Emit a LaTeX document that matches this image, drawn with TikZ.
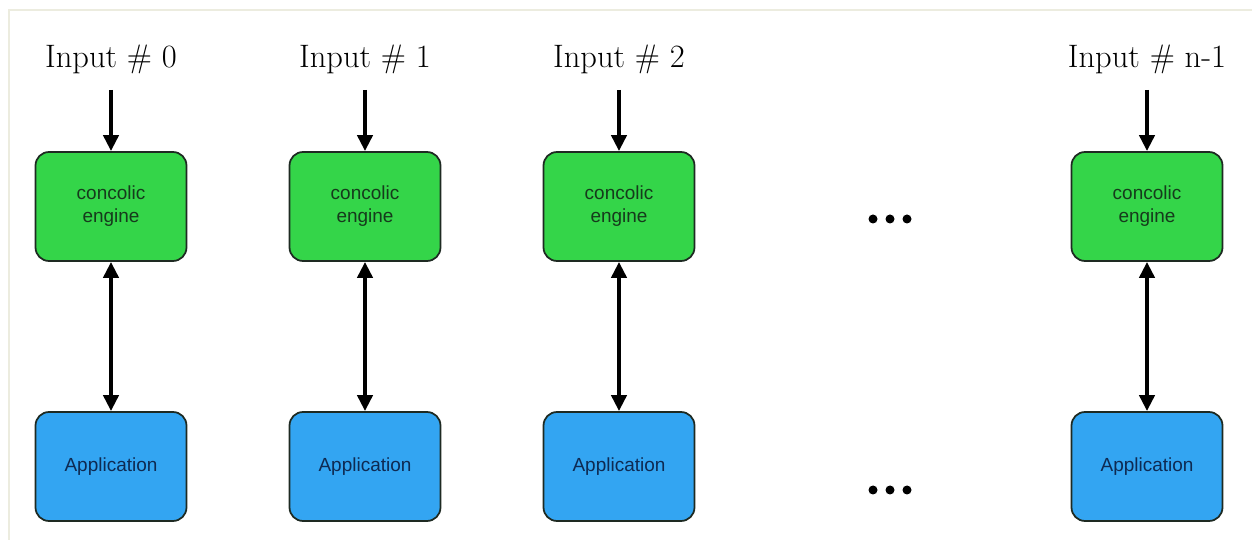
\documentclass[tikz,border=0pt]{standalone}
\usepackage{fontspec}
\newfontfamily\boxfont{Liberation Sans}
\usetikzlibrary{arrows.meta}

\definecolor{enginegreen}{HTML}{34D549}
\definecolor{appblue}{HTML}{33A5F2}
\definecolor{enginetext}{HTML}{163A1C}
\definecolor{apptext}{HTML}{0E2A52}
\definecolor{boxline}{HTML}{1E2A22}
\definecolor{frameline}{HTML}{ECECDF}

\tikzset{
	engine/.style={draw=boxline, line width=1pt, fill=enginegreen, rounded corners=0.27cm,
		minimum width=3.02cm, minimum height=2.18cm, align=center, text=enginetext,
		font=\boxfont\fontsize{10.8}{13}\selectfont},
	app/.style={engine, fill=appblue, text=apptext},
	inlabel/.style={anchor=base, font=\fontsize{18.5}{22}\selectfont},
	flow/.style={line width=2.4pt, -{Triangle[length=3.2mm,width=3mm]}},
	talk/.style={flow, {Triangle[length=3.2mm,width=3mm]}-{Triangle[length=3.2mm,width=3mm]}}
}

\begin{document}
\begin{tikzpicture}[x=0.02cm, y=-0.02cm]
	% page size and the thin frame
	\useasboundingbox (0,0) rectangle (1252,540);
	\draw[frameline, line width=0.8pt] (9,540) -- (9,10) -- (1252,10);
	
	% one column per input
	\foreach \x/\n/\lab in {111/0/0, 365/1/1, 619/2/2, 1147/n/n-1}{
		\node[inlabel] (in\n) at (\x,68) {Input \# \lab};
		\coordinate (feed\n) at (\x,90);
		\node[engine] (eng\n) at (\x,206.5) {concolic\\engine};
		\node[app] (app\n) at (\x,466.5) {Application};
		\draw[flow] (feed\n) -- (eng\n.north);
		\draw[talk] (eng\n.south) -- (app\n.north);
	}
	
	% dots for the columns left out
	\foreach \y in {219,490}
		\foreach \x in {873,890,907}
			\fill (\x,\y) circle (4.5);
\end{tikzpicture}
\end{document}
